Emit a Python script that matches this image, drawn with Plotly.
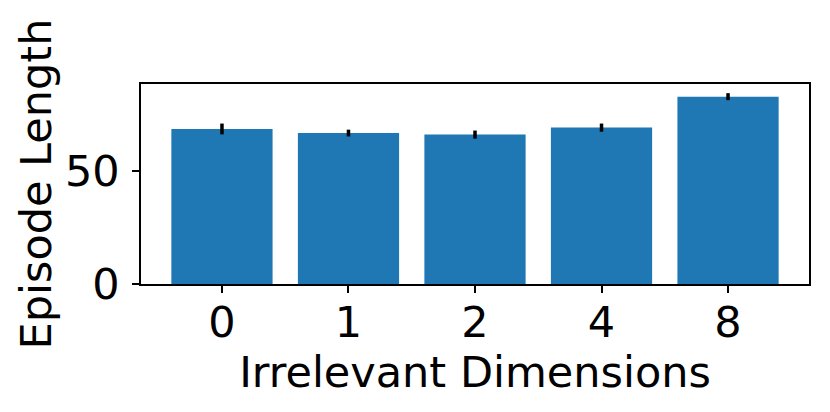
import plotly.graph_objects as go

categories = ["0", "1", "2", "4", "8"]
episode_length = [68.6, 66.8, 66.1, 69.2, 82.9]
error = [2.4, 1.5, 1.8, 1.8, 1.55]
y_ticks = [0, 50]

fig = go.Figure(
    go.Bar(
        x=categories,
        y=episode_length,
        marker=dict(color="#1f77b4", line=dict(width=0)),
        error_y=dict(type="data", array=error, visible=True, color="black", thickness=3.5, width=0),
    )
)

font = dict(family="DejaVu Sans", size=43, color="black")
fig.update_layout(
    width=830,
    height=412,
    autosize=False,
    margin=dict(l=141, r=21, t=84, b=128, autoexpand=False),
    plot_bgcolor="white",
    paper_bgcolor="white",
    bargap=0.2,
    showlegend=False,
    font=font,
)
fig.update_xaxes(
    type="category",
    range=[-0.64, 4.64],
    automargin=False,
    showline=True, linecolor="black", linewidth=1.5, mirror=True,
    ticks="outside", ticklen=7, tickwidth=1.5, tickcolor="black",
    ticklabelstandoff=-7,
    showgrid=False,
    tickfont=font,
    title=dict(text="Irrelevant Dimensions", font=font, standoff=0),
)
fig.update_yaxes(
    range=[0, 88.5],
    tickvals=y_ticks,
    automargin=False,
    showline=True, linecolor="black", linewidth=1.5, mirror=True,
    ticks="outside", ticklen=7, tickwidth=1.5, tickcolor="black",
    ticklabelstandoff=4,
    showgrid=False, zeroline=False,
    tickfont=font,
    title=dict(text="Episode Length", font=font, standoff=0),
)

fig.write_html("out.html", config={"responsive": False, "displayModeBar": False})

with open("out.html", encoding="utf-8") as f:
    html = f.read()
html = html.replace("<head>", "<head><style>html,body{margin:0;padding:0;overflow:hidden;}</style>", 1)
with open("out.html", "w", encoding="utf-8") as f:
    f.write(html)
